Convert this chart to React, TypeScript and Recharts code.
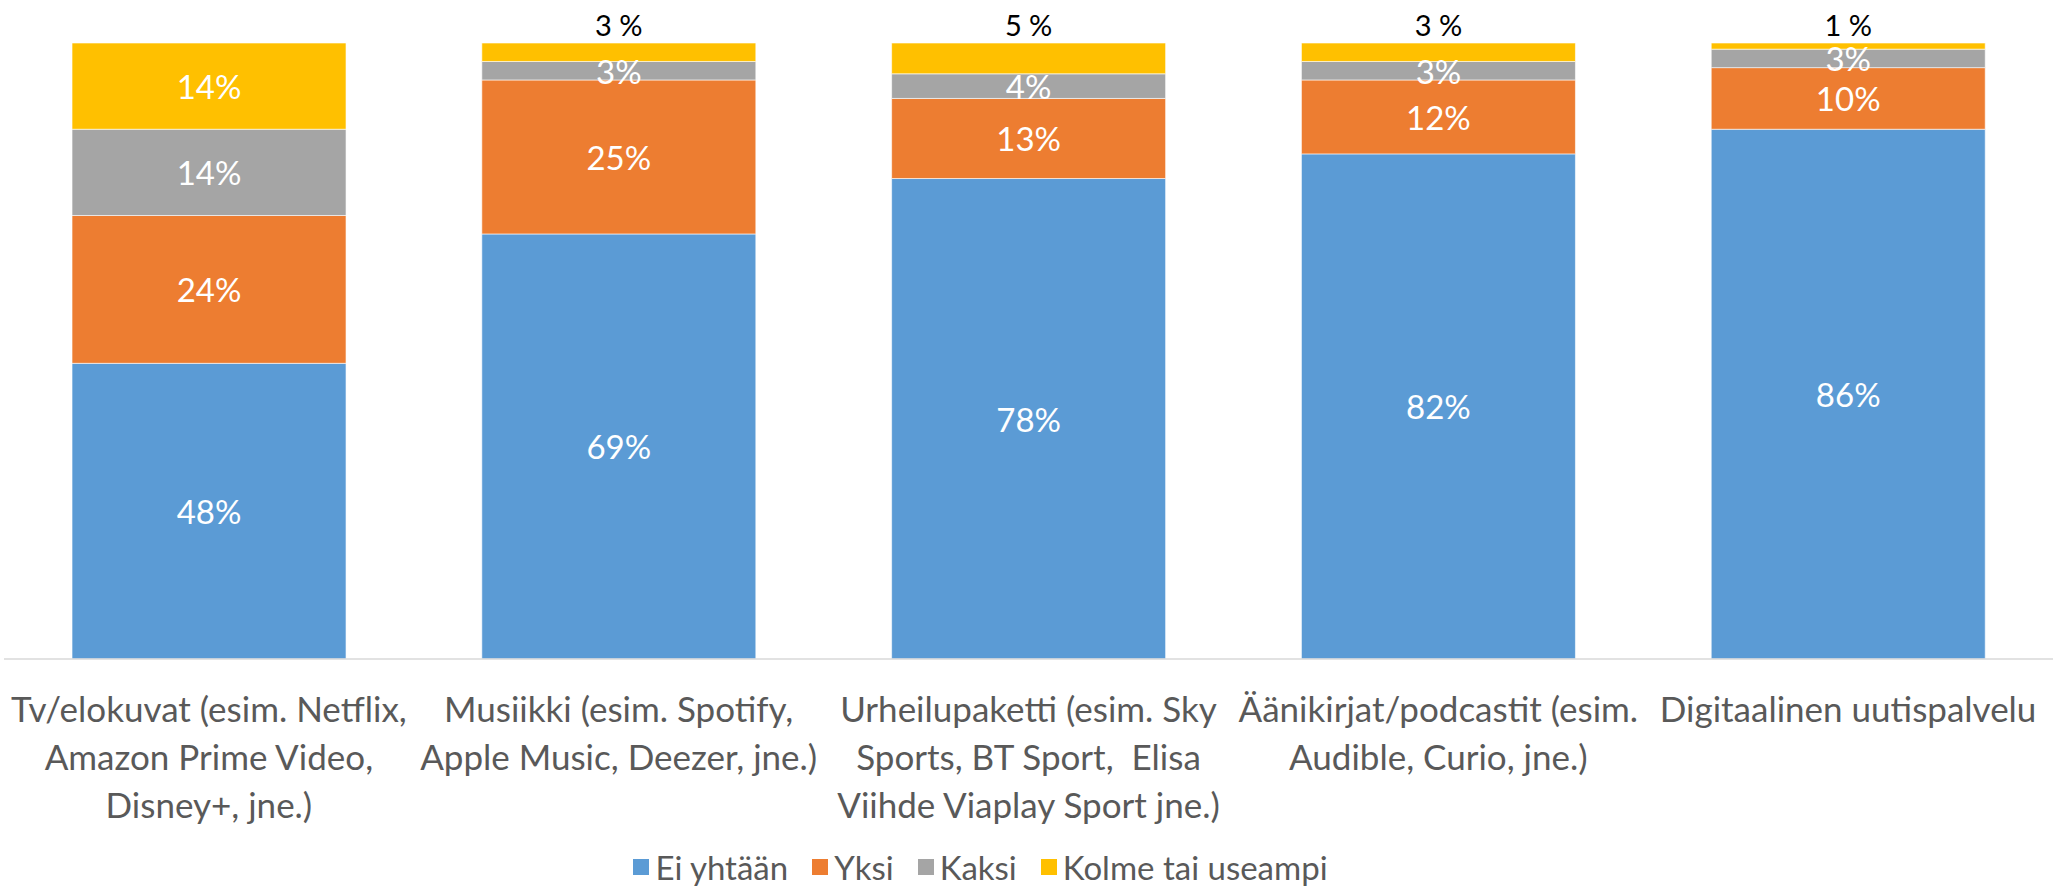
import { BarChart, Bar, XAxis, YAxis, Legend, LabelList } from "recharts";

const categories = [
    "Tv/elokuvat",
    "Musiikki",
    "Urheilupaketti",
    "Äänikirjat/podcastit",
    "Digitaalinen uutispalvelu",
];

// wrapped x-axis labels, one array per category
const tickLines = [
    ["Tv/elokuvat (esim. Netflix,", "Amazon Prime Video,", "Disney+, jne.)"],
    ["Musiikki (esim. Spotify,", "Apple Music, Deezer, jne.)"],
    ["Urheilupaketti (esim. Sky", "Sports, BT Sport,  Elisa", "Viihde Viaplay Sport jne.)"],
    ["Äänikirjat/podcastit (esim.", "Audible, Curio, jne.)"],
    ["Digitaalinen uutispalvelu"],
];

const eiYhtaan = [48, 69, 78, 82, 86];
const yksi = [24, 25, 13, 12, 10];
const kaksi = [14, 3, 4, 3, 3];
const kolme = [14, 3, 5, 3, 1];

const series = [
    { key: "ei", name: "Ei yhtään", color: "#5B9BD5" },
    { key: "yksi", name: "Yksi", color: "#ED7D31" },
    { key: "kaksi", name: "Kaksi", color: "#A5A5A5" },
    { key: "kolme", name: "Kolme tai useampi", color: "#FFC000" },
];

const FONT = "Lato, 'Open Sans', sans-serif";

const data = categories.map((name, i) => ({
    name,
    idx: i,
    ei: eiYhtaan[i],
    yksi: yksi[i],
    kaksi: kaksi[i],
    kolme: kolme[i],
}));

const CategoryTick = ({ x, y, payload }: any) => {
    const lines = tickLines[payload.index] || [payload.value];
    return (
        <text
            x={x}
            y={y}
            textAnchor="middle"
            fill="#595959"
            fontSize={35}
            fontFamily={FONT}
        >
            {lines.map((line: string, i: number) => (
                <tspan key={i} x={x} dy={i === 0 ? 55 : 48} style={{ whiteSpace: "pre" }}>
                    {line}
                </tspan>
            ))}
        </text>
    );
};

const insideLabel = (props: any) => {
    const { x, y, width, height, value } = props;
    return (
        <text
            x={x + width / 2}
            y={y + height / 2}
            textAnchor="middle"
            dominantBaseline="central"
            fill="#fff"
            fontSize={33}
            fontFamily={FONT}
        >
            {`${value}%`}
        </text>
    );
};

// small top segments get a black label above the bar
const topLabel = (props: any) => {
    const { x, y, width, value } = props;
    if (value >= 10) return insideLabel(props);
    return (
        <text
            x={x + width / 2}
            y={y - 19}
            textAnchor="middle"
            dominantBaseline="central"
            fill="#000"
            fontSize={29}
            fontFamily={FONT}
        >
            {`${value} %`}
        </text>
    );
};

const LegendContent = () => (
    <div
        style={{
            display: "flex",
            justifyContent: "center",
            alignItems: "center",
            fontFamily: FONT,
            fontSize: 33,
            color: "#595959",
            height: 40,
            paddingRight: 96,
        }}
    >
        {series.map((s) => (
            <div key={s.key} style={{ display: "flex", alignItems: "center", margin: "0 12px" }}>
                <span
                    style={{
                        display: "inline-block",
                        width: 16,
                        height: 16,
                        background: s.color,
                        marginRight: 6,
                    }}
                />
                <span>{s.name}</span>
            </div>
        ))}
    </div>
);

export default function App() {
    return (
        <div style={{ position: "absolute", left: 0, top: 0, background: "#fff" }}>
            <BarChart
                width={2053}
                height={887}
                data={data}
                barCategoryGap="16.6%"
                margin={{ top: 43, right: 0, bottom: 0, left: 4 }}
            >
                <XAxis
                    dataKey="name"
                    interval={0}
                    tickLine={false}
                    axisLine={{ stroke: "#D9D9D9", strokeWidth: 1.5 }}
                    height={188}
                    tick={<CategoryTick />}
                />
                <YAxis hide domain={[0, 100]} />
                <Legend verticalAlign="bottom" content={<LegendContent />} />
                {series.map((s) => (
                    <Bar
                        key={s.key}
                        dataKey={s.key}
                        name={s.name}
                        stackId="a"
                        fill={s.color}
                        stroke="#fff"
                        strokeWidth={0.6}
                        isAnimationActive={false}
                    >
                        <LabelList
                            dataKey={s.key}
                            content={s.key === "kolme" ? topLabel : insideLabel}
                        />
                    </Bar>
                ))}
            </BarChart>
        </div>
    );
}
